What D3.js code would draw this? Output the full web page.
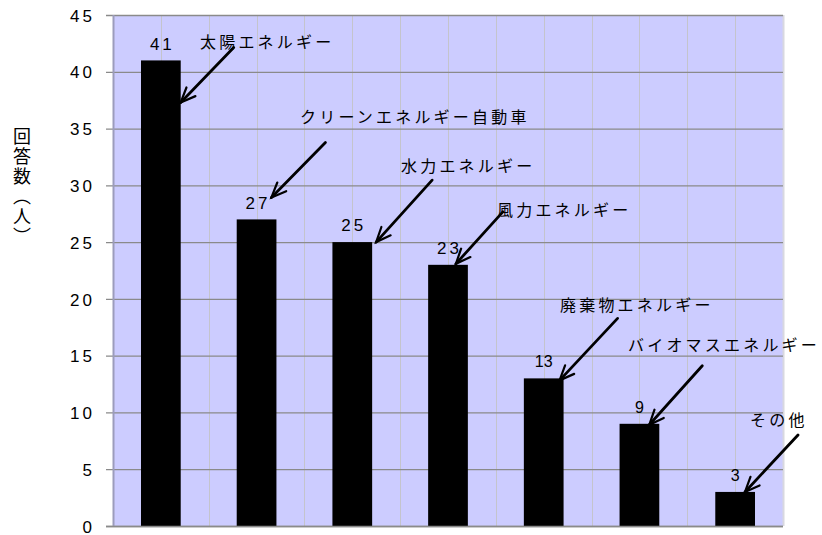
<!DOCTYPE html>
<html><head><meta charset="utf-8">
<script src="https://cdn.jsdelivr.net/npm/d3@7"></script>
<style>
html,body{margin:0;padding:0;background:#fff;}
svg{display:block;}
</style></head>
<body>
<svg id="chart" width="822" height="535"></svg>
<script>
// ---- data ----
const categories = ["太陽エネルギー","クリーンエネルギー自動車","水力エネルギー","風力エネルギー","廃棄物エネルギー","バイオマスエネルギー","その他"];
const values = [41, 27, 25, 23, 13, 9, 3];
const yTicks = [0, 5, 10, 15, 20, 25, 30, 35, 40, 45];
const yTitle = "回答数（人）";

// ---- layout (pixels) ----
const plot = {left: 113, right: 783, top: 15, bottom: 526};
// annotation layout: arrow tip offset from bar top-right corner, arrow start offset from tip, label left/center
const annot = [
  {tipDx: 0,   tipDy: 42, sDx: 53, sDy: -55, lx: 200, ly: 42},
  {tipDx: -5,  tipDy: -22, sDx: 54, sDy: -55, lx: 300, ly: 117},
  {tipDx: 4,   tipDy: 0,  sDx: 56, sDy: -62, lx: 401, ly: 166},
  {tipDx: -12, tipDy: -1, sDx: 47, sDy: -52, lx: 497, ly: 210},
  {tipDx: -4,  tipDy: 2,  sDx: 58, sDy: -62, lx: 560, ly: 305},
  {tipDx: -10, tipDy: 1,  sDx: 53, sDy: -59, lx: 628, ly: 345},
  {tipDx: -10, tipDy: 0,  sDx: 53, sDy: -57, lx: 750, ly: 420}
];

const svg = d3.select("#chart");
const x = d3.scaleBand().domain(categories).range([plot.left, plot.right]).paddingInner(0.585).paddingOuter(0.2925);
const y = d3.scaleLinear().domain([0, 45]).range([plot.bottom, plot.top]);
const band = (plot.right - plot.left) / categories.length;

// background
svg.append("rect").attr("x", plot.left).attr("y", plot.top)
  .attr("width", plot.right - plot.left).attr("height", plot.bottom - plot.top)
  .attr("fill", "#ccccff");

// vertical grid lines (half-band)
const vgrid = d3.range(1, categories.length * 2 + 1).map(i => plot.left + i * band / 2);
svg.append("g").selectAll("line").data(vgrid).join("line")
  .attr("x1", d => Math.round(d) + 0.5).attr("x2", d => Math.round(d) + 0.5)
  .attr("y1", plot.top).attr("y2", plot.bottom)
  .attr("stroke", (d, i) => i === vgrid.length - 1 ? "#d8d8e0" : "#c4c4cc").attr("stroke-width", (d, i) => i === vgrid.length - 1 ? 2 : 1);

// y axis
const yAxis = d3.axisLeft(y).tickValues(yTicks).tickSize(plot.right - plot.left + 7).tickPadding(14);
const gy = svg.append("g").attr("transform", `translate(${plot.right},0)`).call(yAxis);
gy.select(".domain").remove();
gy.selectAll(".tick line").attr("stroke", "#8a8a8a").attr("stroke-width", 1.3);
gy.selectAll(".tick text")
  .attr("font-family", "'Liberation Sans', Arial, sans-serif")
  .attr("font-size", 17).attr("fill", "#000")
  .attr("letter-spacing", 3).attr("dx", 3).attr("dy", "0.36em");

// left border
svg.append("line").attr("x1", plot.left + 0.5).attr("x2", plot.left + 0.5)
  .attr("y1", plot.top).attr("y2", plot.bottom).attr("stroke", "#9c9cbc").attr("stroke-width", 2);

// bars
svg.append("g").selectAll("rect").data(values).join("rect")
  .attr("x", (d, i) => x(categories[i])).attr("width", x.bandwidth())
  .attr("y", d => y(d)).attr("height", d => y(0) - y(d))
  .attr("fill", "#000");

// bottom axis line
svg.append("line").attr("x1", plot.left - 7).attr("x2", plot.right)
  .attr("y1", plot.bottom + 0.5).attr("y2", plot.bottom + 0.5).attr("stroke", "#8a8a8a").attr("stroke-width", 1.3);

// value labels
svg.append("g").selectAll("text").data(values).join("text")
  .attr("x", (d, i) => x(categories[i]) + x.bandwidth() / 2 + (d >= 20 ? 1.5 : 0))
  .attr("y", d => y(d) - 17).attr("dy", "0.36em")
  .attr("text-anchor", "middle")
  .attr("font-family", "'Liberation Sans', Arial, sans-serif")
  .attr("font-size", d => d >= 20 ? 17 : 16).attr("letter-spacing", d => d >= 20 ? 3 : 0)
  .text(d => d);

// annotation labels
svg.append("g").selectAll("text").data(categories).join("text")
  .attr("x", (d, i) => annot[i].lx).attr("y", (d, i) => annot[i].ly).attr("dy", "0.36em")
  .attr("font-family", "'Noto Sans CJK JP', sans-serif")
  .attr("font-size", 16).attr("letter-spacing", 3.2)
  .text(d => d);

// arrows
const arrows = values.map((v, i) => {
  const a = annot[i];
  const tx = x(categories[i]) + x.bandwidth() + a.tipDx;
  const ty = y(v) + a.tipDy;
  return {tx, ty, sx: tx + a.sDx, sy: ty + a.sDy};
});
const ag = svg.append("g").attr("stroke", "#000").attr("fill", "none").attr("stroke-linecap", "round");
ag.selectAll("line").data(arrows).join("line")
  .attr("x1", d => d.sx).attr("y1", d => d.sy).attr("x2", d => d.tx).attr("y2", d => d.ty)
  .attr("stroke-width", 2.8);
ag.selectAll("path").data(arrows).join("path")
  .attr("stroke-width", 2.2)
  .attr("d", d => {
    const ang = Math.atan2(d.sy - d.ty, d.sx - d.tx);
    const L = 16, h = 0.4;
    const p1 = [d.tx + L * Math.cos(ang + h), d.ty + L * Math.sin(ang + h)];
    const p2 = [d.tx + L * Math.cos(ang - h), d.ty + L * Math.sin(ang - h)];
    return `M${p1[0]},${p1[1]}L${d.tx},${d.ty}L${p2[0]},${p2[1]}`;
  });

// y title (vertical)
svg.append("text").attr("x", 22).attr("y", 127)
  .style("writing-mode", "vertical-rl")
  .attr("font-family", "'Noto Sans CJK JP', sans-serif")
  .attr("font-size", 18).attr("letter-spacing", 2)
  .text(yTitle);
</script>
</body></html>
